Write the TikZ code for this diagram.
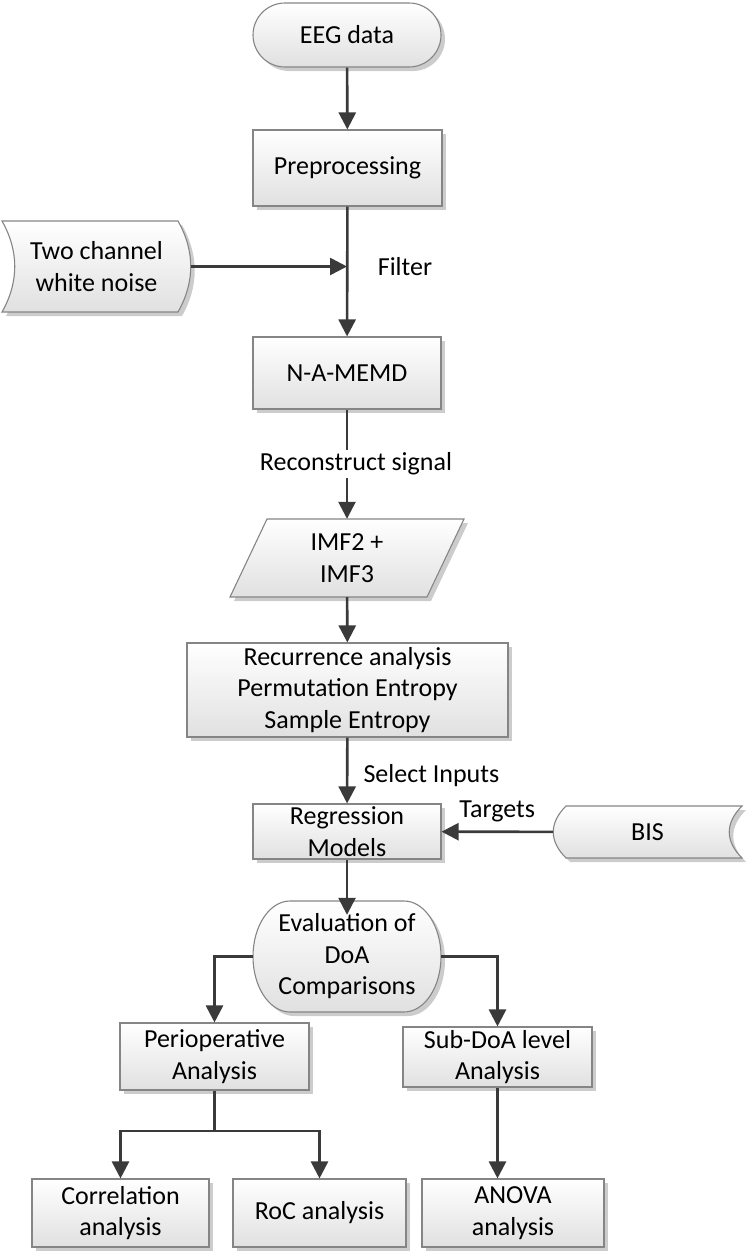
\documentclass[tikz,border=0pt]{standalone}
\usepackage{fontspec}
\setmainfont{Carlito}
\usetikzlibrary{arrows.meta,shapes.misc,shadows}
\newcommand\myfs{\fontsize{26}{31.5}\selectfont}
\definecolor{bd}{HTML}{858585}
\definecolor{lnc}{HTML}{3A3A3A}
\tikzset{
  x=1pt,y=-1pt,
  sh/.style={drop shadow={shadow xshift=4pt,shadow yshift=-4pt,fill=black,opacity=.2}},
  fillst/.style={draw=bd,line width=1.1pt,top color=white,bottom color=black!12,sh},
  box/.style={rectangle,fillst,align=center,inner sep=0pt,font=\myfs},
  txt/.style={rectangle,align=center,inner sep=0pt,font=\myfs},
  lab/.style={inner sep=0pt,font=\myfs},
  arr/.style={draw=lnc,line width=2.6pt,-{Triangle[length=17pt,width=17pt]}},
  con/.style={draw=lnc,line width=2.6pt},
}
\begin{document}
\begin{tikzpicture}
\useasboundingbox (0,0) rectangle (746,1254);

% special shapes
\path[fillst] (2,221) -- (178,221) .. controls (195,251) and (195,282) .. (178,312)
  -- (2,312) .. controls (19,282) and (19,251) .. (2,221) -- cycle;
\path[fillst] (267,519) -- (464,519) -- (427,597) -- (230,597) -- cycle;
\path[fillst] (566,806) -- (742,806) .. controls (725,823) and (725,841) .. (742,858)
  -- (566,858) .. controls (549,841) and (549,823) .. (566,806) -- cycle;
\path[fillst] (290,901) -- (404,901) arc[start angle=90,end angle=-90,x radius=37pt,y radius=55.5pt]
  -- (290,1012) arc[start angle=270,end angle=90,x radius=37pt,y radius=55.5pt] -- cycle;

% nodes
\node[rounded rectangle,fillst,font=\myfs,inner sep=0pt,minimum width=188pt,minimum height=64pt] (eeg) at (347,35) {EEG data};
\node[box,minimum width=189pt,minimum height=76pt] (pre) at (347.5,168) {Preprocessing};
\node[txt,minimum width=189pt,minimum height=91pt] (noise) at (96.5,266.5) {Two channel\\white noise};
\node[box,minimum width=188pt,minimum height=72pt] (mem) at (347,373) {N-A-MEMD};
\node[txt,minimum width=234pt,minimum height=78pt] (imf) at (347,558) {IMF2 +\\IMF3};
\node[box,minimum width=321pt,minimum height=94pt] (rec) at (347.5,690) {Recurrence analysis\\Permutation Entropy\\Sample Entropy};
\node[box,minimum width=188pt,minimum height=55pt] (reg) at (347,831.5) {Regression\\Models};
\node[txt,minimum width=189pt,minimum height=52pt] (bis) at (647.5,832) {BIS};
\node[txt,minimum width=188pt,minimum height=111pt] (eva) at (347,956.5) {Evaluation of\\DoA\\Comparisons};
\node[box,minimum width=189pt,minimum height=67pt] (peri) at (214.5,1056.5) {Perioperative\\Analysis};
\node[box,minimum width=189pt,minimum height=60pt] (sub) at (497.5,1057) {Sub-DoA level\\Analysis};
\node[box,minimum width=177pt,minimum height=68pt] (cor) at (120.5,1213) {Correlation\\analysis};
\node[box,minimum width=173pt,minimum height=68pt] (roc) at (319.5,1213) {RoC analysis};
\node[box,minimum width=182pt,minimum height=68pt] (ano) at (513,1213) {ANOVA\\analysis};
\coordinate (br) at (214.5,1131);

% connectors
\draw[arr] (eeg) -- (pre);
\draw[arr] (pre) -- (mem);
\draw[arr] (noise.east) -- (noise.east -| mem.north);
\node[lab] (filt) at (405,267) {Filter};
\draw[arr] (mem) -- (imf) node[lab,midway,fill=white,inner sep=3pt,xshift=9pt] (rs) {Reconstruct signal};
\draw[arr] (imf) -- (rec);
\draw[arr] (rec) -- (reg) node[lab,pos=0.58,right=15pt] (si) {Select Inputs};
\draw[arr] (bis) -- (reg) node[lab,midway,yshift=20pt] (tg) {Targets};
\draw[arr] (reg) -- ([yshift=-14pt]eva.north);
\draw[arr] (eva.west) -| (peri.north);
\draw[arr] (eva.east) -| (sub.north);
\draw[con] (peri.south) -- (br);
\draw[arr] (br) -| (cor.north);
\draw[arr] (br) -| (roc.north);
\draw[arr] (sub.south) -- (sub.south |- ano.north);
\end{tikzpicture}
\end{document}
